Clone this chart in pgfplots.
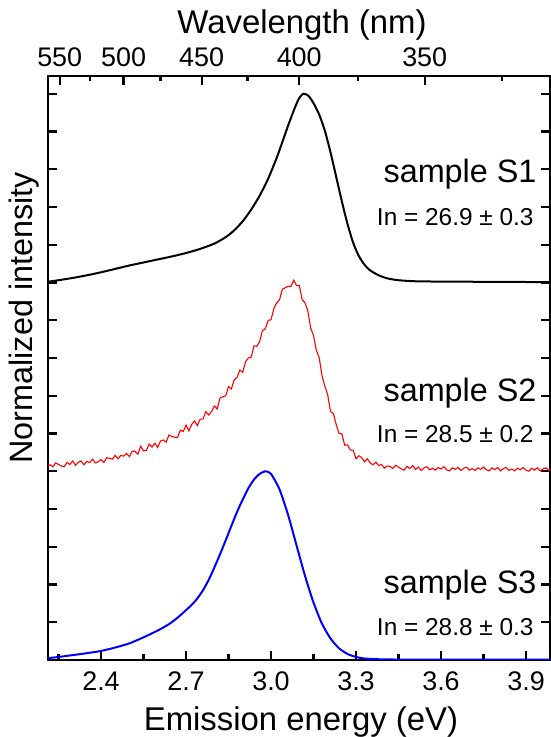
\documentclass[border=0pt]{standalone}
\usepackage{pgfplots}
\pgfplotsset{compat=1.18}
\usepackage{fontspec}
\setmainfont{Liberation Sans}
\newcommand{\fs}[1]{\fontsize{#1}{#1}\selectfont}

\begin{document}
\begin{tikzpicture}[x=1bp,y=1bp]
\useasboundingbox (0,0) rectangle (551,737);
\pgfplotsset{
  common/.style={
    at={(48bp,77bp)}, anchor=south west,
    scale only axis, width=502bp, height=584bp,
    xmin=2.2129, xmax=3.9847, ymin=0, ymax=15.47,
    axis line style={line width=2.4bp, black},
    tick style={line width=2.2bp, black},
    major tick length=9bp, minor tick length=5.5bp,
    tick align=inside,
    /pgf/number format/assume math mode=true,
    tick label style={font=\fs{27}},
  }
}
\begin{axis}[common,
  xtick={2.4,2.7,3.0,3.3,3.6,3.9},
  minor xtick={2.25,2.55,2.85,3.15,3.45,3.75},
  xtick pos=left,
  xticklabel={\pgfmathprintnumber[fixed,fixed zerofill,precision=1]{\tick}},
  xticklabel style={anchor=base, yshift=-30bp},
  ytick={0,1,...,15}, yticklabels={}, ytick pos=both,
  xlabel={Emission energy (eV)},
  xlabel style={font=\fs{33}, at={(axis description cs:0.504,-0.1199)}, anchor=base},
  ylabel={Normalized intensity},
  ylabel style={font=\fs{32.5}, at={(axis description cs:-0.030,0.586)}, anchor=base, rotate=0},
]
% sample S1 (black)
\addplot[black, line width=2bp, smooth, tension=0.4] coordinates {
(2.213,10.02) (2.25,10.06) (2.30,10.12) (2.35,10.19) (2.40,10.27) (2.45,10.36)
(2.50,10.45) (2.55,10.53) (2.60,10.61) (2.65,10.69) (2.70,10.78) (2.75,10.89)
(2.80,11.03) (2.84,11.20) (2.87,11.38) (2.90,11.62) (2.93,11.93) (2.96,12.30)
(2.99,12.75) (3.02,13.30) (3.04,13.72) (3.06,14.15) (3.08,14.55) (3.095,14.82)
(3.105,14.94) (3.115,15.00) (3.125,14.98) (3.135,14.92) (3.15,14.75) (3.17,14.45)
(3.19,14.02) (3.21,13.45) (3.23,12.80) (3.25,12.15) (3.27,11.55) (3.29,11.05)
(3.31,10.70) (3.33,10.47) (3.35,10.32) (3.38,10.19) (3.41,10.11) (3.45,10.06)
(3.52,10.03) (3.70,10.02) (3.985,10.01)
};
% sample S2 (red, noisy)
\addplot[red, line width=1.1bp] coordinates {
(2.213,5.15) (2.22,5.17) (2.23,5.12) (2.24,5.22) (2.25,5.18) (2.26,5.14) (2.27,5.12)
(2.28,5.23) (2.29,5.18) (2.30,5.27) (2.31,5.16) (2.32,5.24) (2.33,5.27) (2.34,5.17)
(2.35,5.26) (2.36,5.23) (2.37,5.32) (2.38,5.22) (2.39,5.25) (2.40,5.31) (2.41,5.23)
(2.42,5.36) (2.43,5.34) (2.44,5.32) (2.45,5.42) (2.46,5.33) (2.47,5.42) (2.48,5.40)
(2.49,5.47) (2.50,5.39) (2.51,5.53) (2.52,5.53) (2.53,5.45) (2.54,5.66) (2.55,5.54)
(2.56,5.55) (2.57,5.72) (2.58,5.64) (2.59,5.74) (2.60,5.63) (2.61,5.80) (2.62,5.83)
(2.63,5.77) (2.64,5.96) (2.65,5.92) (2.66,5.90) (2.67,5.89) (2.68,6.09) (2.69,6.05)
(2.70,6.22) (2.71,6.07) (2.72,6.24) (2.73,6.33) (2.74,6.21) (2.75,6.38) (2.76,6.38)
(2.77,6.58) (2.78,6.49) (2.79,6.58) (2.80,6.73) (2.81,6.65) (2.82,6.94) (2.83,6.97)
(2.84,7.00) (2.85,7.24) (2.86,7.18) (2.87,7.42) (2.88,7.48) (2.89,7.68) (2.90,7.62)
(2.91,7.90) (2.92,8.00) (2.93,8.02) (2.94,8.32) (2.95,8.31) (2.96,8.44) (2.97,8.73)
(2.98,8.77) (2.99,9.00) (3.00,9.01) (3.01,9.31) (3.02,9.46) (3.03,9.54) (3.04,9.82)
(3.05,9.86) (3.06,9.90) (3.07,9.89) (3.08,10.06) (3.09,9.92) (3.10,9.92) (3.11,9.55)
(3.12,9.46) (3.13,9.25) (3.14,8.79) (3.15,8.60) (3.16,8.20) (3.17,8.01) (3.18,7.53)
(3.19,7.25) (3.20,7.03) (3.21,6.58) (3.22,6.53) (3.23,6.24) (3.24,6.00) (3.25,5.99)
(3.26,5.69) (3.27,5.70) (3.28,5.56) (3.29,5.56) (3.30,5.33) (3.31,5.41) (3.32,5.36)
(3.33,5.25) (3.34,5.33) (3.35,5.22) (3.36,5.17) (3.37,5.24) (3.38,5.15) (3.39,5.18)
(3.40,5.08) (3.41,5.14) (3.42,5.13) (3.43,5.07) (3.44,5.16) (3.45,5.11) (3.46,5.06)
(3.47,5.03) (3.48,5.13) (3.49,5.07) (3.50,5.15) (3.51,5.05) (3.52,5.11) (3.53,5.02)
(3.54,5.09) (3.55,5.12) (3.56,5.04) (3.57,5.08) (3.58,5.03) (3.59,5.10) (3.60,5.06)
(3.61,5.12) (3.62,5.04) (3.63,5.01) (3.64,5.09) (3.65,5.05) (3.66,5.10) (3.67,5.02)
(3.68,5.08) (3.69,5.11) (3.70,5.03) (3.71,5.07) (3.72,5.02) (3.73,5.09) (3.74,5.05)
(3.75,5.11) (3.76,5.04) (3.77,5.01) (3.78,5.09) (3.79,5.04) (3.80,5.10) (3.81,5.01)
(3.82,5.07) (3.83,5.10) (3.84,5.02) (3.85,5.06) (3.86,5.01) (3.87,5.08) (3.88,5.04)
(3.89,5.10) (3.90,5.03) (3.91,5.00) (3.92,5.08) (3.93,5.03) (3.94,5.09) (3.95,5.01)
(3.96,5.06) (3.97,5.09) (3.98,5.02) (3.985,5.05)
};
% sample S3 (blue)
\addplot[blue, line width=2bp, smooth, tension=0.4] coordinates {
(2.213,0.05) (2.25,0.08) (2.30,0.13) (2.35,0.18) (2.40,0.24) (2.45,0.33)
(2.50,0.44) (2.55,0.60) (2.60,0.78) (2.64,0.95) (2.67,1.12) (2.70,1.32)
(2.72,1.46) (2.74,1.63) (2.76,1.85) (2.78,2.12) (2.80,2.45) (2.82,2.80)
(2.84,3.17) (2.86,3.55) (2.88,3.92) (2.90,4.25) (2.92,4.55) (2.94,4.78)
(2.96,4.93) (2.98,5.00) (3.00,4.93) (3.03,4.52) (3.06,3.85) (3.09,3.04)
(3.12,2.23) (3.15,1.52) (3.18,0.96) (3.21,0.57) (3.24,0.31) (3.27,0.16)
(3.30,0.08) (3.33,0.04) (3.38,0.02) (3.50,0.01) (3.985,0.01)
};
\node[anchor=base east, font=\fs{32.5}] at (axis cs:3.9496,12.66) {sample S1};
\node[anchor=base east, font=\fs{24.5}] at (axis cs:3.9390,11.52) {In = 26.9 ± 0.3};
\node[anchor=base east, font=\fs{32.5}] at (axis cs:3.9496,6.86) {sample S2};
\node[anchor=base east, font=\fs{24.5}] at (axis cs:3.9390,5.75) {In = 28.5 ± 0.2};
\node[anchor=base east, font=\fs{32.5}] at (axis cs:3.9496,1.77) {sample S3};
\node[anchor=base east, font=\fs{24.5}] at (axis cs:3.9390,0.66) {In = 28.8 ± 0.3};
\end{axis}
\begin{axis}[common,
  axis x line*=top, axis y line=none,
  xtick={2.2543,2.4797,2.7552,3.0996,3.5424},
  xticklabels={550,500,450,400,350},
  minor xtick={2.3616,2.6102,2.9173,3.3062,3.8149},
  xticklabel style={anchor=base, yshift=9bp},
  xlabel={Wavelength (nm)},
  xlabel style={font=\fs{33}, at={(axis description cs:0.506,1.0736)}, anchor=base},
]
\addplot[draw=none] coordinates {(3,1)};
\end{axis}
\end{tikzpicture}
\end{document}
